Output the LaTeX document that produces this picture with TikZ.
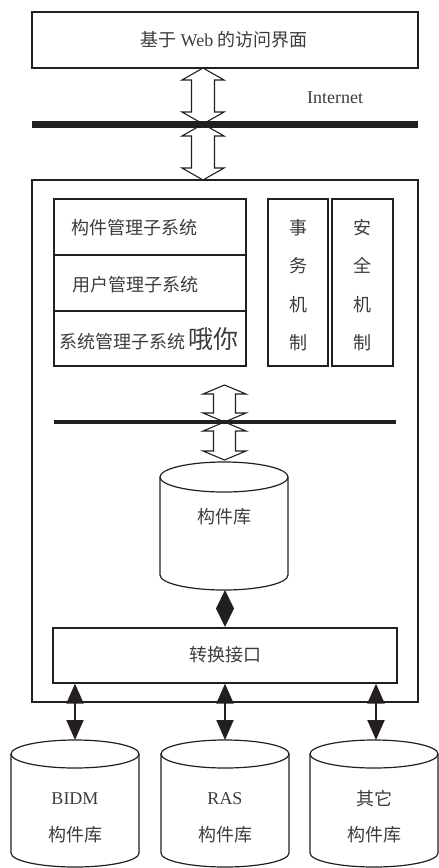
\documentclass[tikz,border=0pt]{standalone}
\usepackage{fontspec}
\setmainfont{Liberation Serif}
\newfontfamily\cjk{Noto Sans CJK SC}
\usetikzlibrary{arrows.meta}
\definecolor{ink}{HTML}{231F20}
\definecolor{txt}{HTML}{3C3C3C}
\newcommand{\dblarr}[6]{% x, ytop, ybot, halfhead, halfshaft, headlen
  \draw[hollowarrow] (#1,#2) -- ({#1-#4},{#2+#6}) -- ({#1-#5},{#2+#6}) -- ({#1-#5},{#3-#6}) -- ({#1-#4},{#3-#6}) -- (#1,#3)
    -- ({#1+#4},{#3-#6}) -- ({#1+#5},{#3-#6}) -- ({#1+#5},{#2+#6}) -- ({#1+#4},{#2+#6}) -- cycle;}
\newcommand{\cyl}[4]{% cx, ytopcenter, ybotcenter, rx ; ry from \cylry
  \draw[boxline] (#1,#2) ellipse [x radius=#4pt, y radius=\cylry pt];
  \draw[boxline] ({#1-#4},#2) -- ({#1-#4},#3) arc[start angle=180, end angle=360, x radius=#4pt, y radius=\cylry pt] -- ({#1+#4},#2);}
\tikzset{
  boxline/.style={draw=ink, line width=1.2pt},
  box/.style={boxline, rectangle, inner sep=0pt, text=txt},
  hollowarrow/.style={draw=ink, line width=1.1pt, fill=white, line join=miter},
  bus/.style={draw=ink, line cap=butt},
  lbl/.style={text=txt, inner sep=0pt, font=\fontsize{18}{21}\selectfont},
  vlbl/.style={text=txt, inner sep=0pt, align=center, font=\fontsize{18}{38.5}\selectfont\cjk},
  link/.style={draw=ink, line width=2pt, {Triangle[width=17pt,length=20pt]}-{Triangle[width=17pt,length=20pt]}},
}
\begin{document}
\begin{tikzpicture}[x=1pt, y=-1pt]
\useasboundingbox (0,0) rectangle (439,868);
% top box
\node[box, minimum width=386pt, minimum height=56pt] (web) at (225,40) {};
\node[lbl] (webt) at (224,40) {{\cjk 基于} Web {\cjk 的访问界面}};
% internet bus
\coordinate (busL) at (32,124);
\coordinate (busR) at (418,124);
\dblarr{203}{68}{124}{21}{11.5}{12}
\dblarr{203}{124}{180}{21}{11.5}{12}
\draw[bus, line width=7pt] (busL) -- (busR);
\node[lbl, anchor=west] (inet) at (307,98) {Internet};
% outer system box
\node[box, minimum width=386pt, minimum height=522pt] (outer) at (225,441) {};
% subsystem stack
\node[box, minimum width=192pt, minimum height=56pt] (s1) at (150,227) {};
\node[box, minimum width=192pt, minimum height=56pt] (s2) at (150,283) {};
\node[box, minimum width=192pt, minimum height=55pt] (s3) at (150,338.5) {};
\node[lbl, anchor=west] (s1t) at (71,228) {\cjk 构件管理子系统};
\node[lbl, anchor=west] (s2t) at (72,285) {\cjk 用户管理子系统};
\node[lbl, anchor=west] (s3t) at (59,339) {\cjk 系统管理子系统\hspace{3pt}{\fontsize{25}{27}\selectfont 哦你}};
\node[box, minimum width=60pt, minimum height=167pt] (tx) at (298,282.5) {};
\node[box, minimum width=61pt, minimum height=167pt] (sec) at (362.5,282.5) {};
\node[vlbl] (txt1) at (298,285) {事\\务\\机\\制};
\node[vlbl] (sect) at (362.5,285) {安\\全\\机\\制};
% inner bus
\coordinate (ibL) at (54,422);
\coordinate (ibR) at (396,422);
\dblarr{224.5}{385}{422}{21.5}{11}{9}
\dblarr{224.5}{422}{460}{21.5}{11}{9}
\draw[bus, line width=4.5pt] (ibL) -- (ibR);
% main repository
\def\cylry{15}
\cyl{224}{477}{575}{64}
\node[lbl] (repo) at (224,517) {\cjk 构件库};
% diamond
\coordinate (dtop) at (225,590);
\fill[ink] (dtop) -- ++(9,18.5) -- ++(-9,18.5) -- ++(-9,-18.5) -- cycle;
% interface box
\node[box, minimum width=344pt, minimum height=55pt] (iface) at (225,655.5) {};
\node[lbl] (ifacet) at (225,655) {\cjk 转换接口};
% external repositories
\def\cylry{14}
\cyl{75}{754}{853}{64}
\cyl{225}{754}{853}{64}
\cyl{374}{754}{853}{64}
\coordinate (c1top) at (75,740);
\coordinate (c2top) at (225,740);
\coordinate (c3top) at (376,740);
\node[lbl] (c1a) at (75,799) {BIDM};
\node[lbl] (c1b) at (75,835) {\cjk 构件库};
\node[lbl] (c2a) at (225,799) {RAS};
\node[lbl] (c2b) at (225,835) {\cjk 构件库};
\node[lbl] (c3a) at (374,799) {\cjk 其它};
\node[lbl] (c3b) at (374,835) {\cjk 构件库};
\draw[link] (iface.south -| c1top) -- (c1top);
\draw[link] (iface.south -| c2top) -- (c2top);
\draw[link] (iface.south -| c3top) -- (c3top);
\end{tikzpicture}
\end{document}
